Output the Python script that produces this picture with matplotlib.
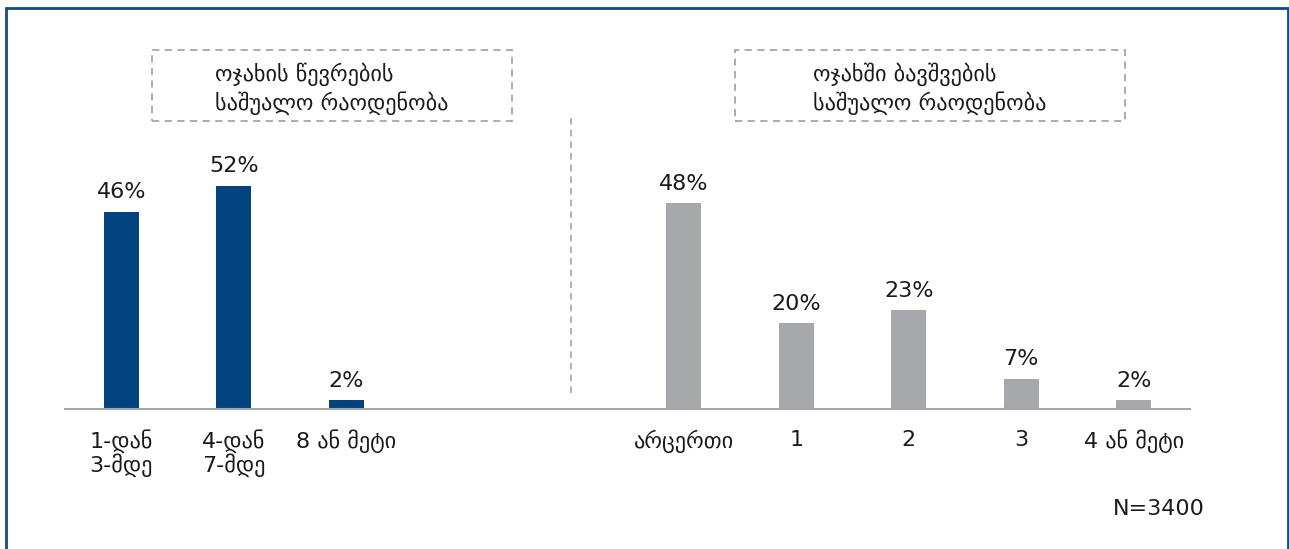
"""
Household size / number of children chart (Georgian survey).
"""

import matplotlib
matplotlib.use("Agg")
import matplotlib.pyplot as plt
from matplotlib.patches import Rectangle

NAVY = "#02427f"
GREY_BAR = "#a7a8ab"
LINE = "#a6a6a6"
TEXT = "#1a1a1a"
BORDER = "#0f4c8c"
FS = 16

# left group: household members
members_labels = ["1-დან\n3-მდე", "4-დან\n7-მდე", "8 ან მეტი"]
members_values = [46, 52, 2]
members_pos = [0, 1, 2]

# right group: children in household
children_labels = ["არცერთი", "1", "2", "3", "4 ან მეტი"]
children_values = [48, 20, 23, 7, 2]
children_pos = [5, 6, 7, 8, 9]

box_left_title = "ოჯახის წევრების\nსაშუალო რაოდენობა"
box_right_title = "ოჯახში ბავშვების\nსაშუალო რაოდენობა"
sample_note = "N=3400"

W, H = 1289, 549
fig = plt.figure(figsize=(W / 100, H / 100), dpi=100)
fig.patch.set_facecolor("white")

# axes placed in pixel terms: baseline at y=409, x from 65 to 1190
ax = fig.add_axes([65 / W, 140 / H, 1125 / W, 300 / H])
ax.set_xlim(-0.5, 9.5)
ax.set_ylim(0, 70)

bw = 0.31
b1 = ax.bar(members_pos, members_values, width=bw, color=NAVY)
b2 = ax.bar(children_pos, children_values, width=bw, color=GREY_BAR)
for bars, vals in [(b1, members_values), (b2, children_values)]:
    ax.bar_label(bars, labels=[f"{v}%" for v in vals], padding=7,
                 fontsize=FS, color=TEXT)

ax.set_xticks(members_pos + children_pos)
ax.set_xticklabels(members_labels + children_labels, fontsize=FS, color=TEXT,
                   multialignment="left", linespacing=1.0)
ax.tick_params(axis="x", length=0, pad=15)
ax.set_yticks([])
for s in ["top", "right", "left"]:
    ax.spines[s].set_visible(False)
ax.spines["bottom"].set_color(LINE)
ax.spines["bottom"].set_linewidth(1.5)

# dashed separator between the two groups
ax.plot([4, 4], [3.7, 69], color=LINE, linestyle=(0, (4, 3)), linewidth=1.2,
        clip_on=False)

# dashed title boxes
def title_box(x0, y0, x1, y1, text):
    fig.patches.append(Rectangle((x0 / W, 1 - y1 / H), (x1 - x0) / W, (y1 - y0) / H,
                                 transform=fig.transFigure, fill=False,
                                 edgecolor=LINE, linewidth=1.3,
                                 linestyle=(0, (4, 3))))
    fig.text((x0 + x1) / 2 / W, 1 - ((y0 + y1) / 2 + 3) / H, text, ha="center",
             va="center", multialignment="left", fontsize=FS, color=TEXT,
             linespacing=1.3)

title_box(152, 50, 512, 121, box_left_title)
title_box(735, 50, 1125, 121, box_right_title)

fig.text(1205 / W, 1 - 509 / H, sample_note, ha="right", va="center",
         fontsize=FS, color=TEXT)

# outer frame (bottom edge runs off the picture)
fig.patches.append(Rectangle((6 / W, -0.02), 1282 / W, 1 - 8 / H + 0.02,
                             transform=fig.transFigure, fill=False,
                             edgecolor=BORDER, linewidth=2))

fig.savefig("out.png", dpi=100, facecolor="white")
plt.close(fig)
